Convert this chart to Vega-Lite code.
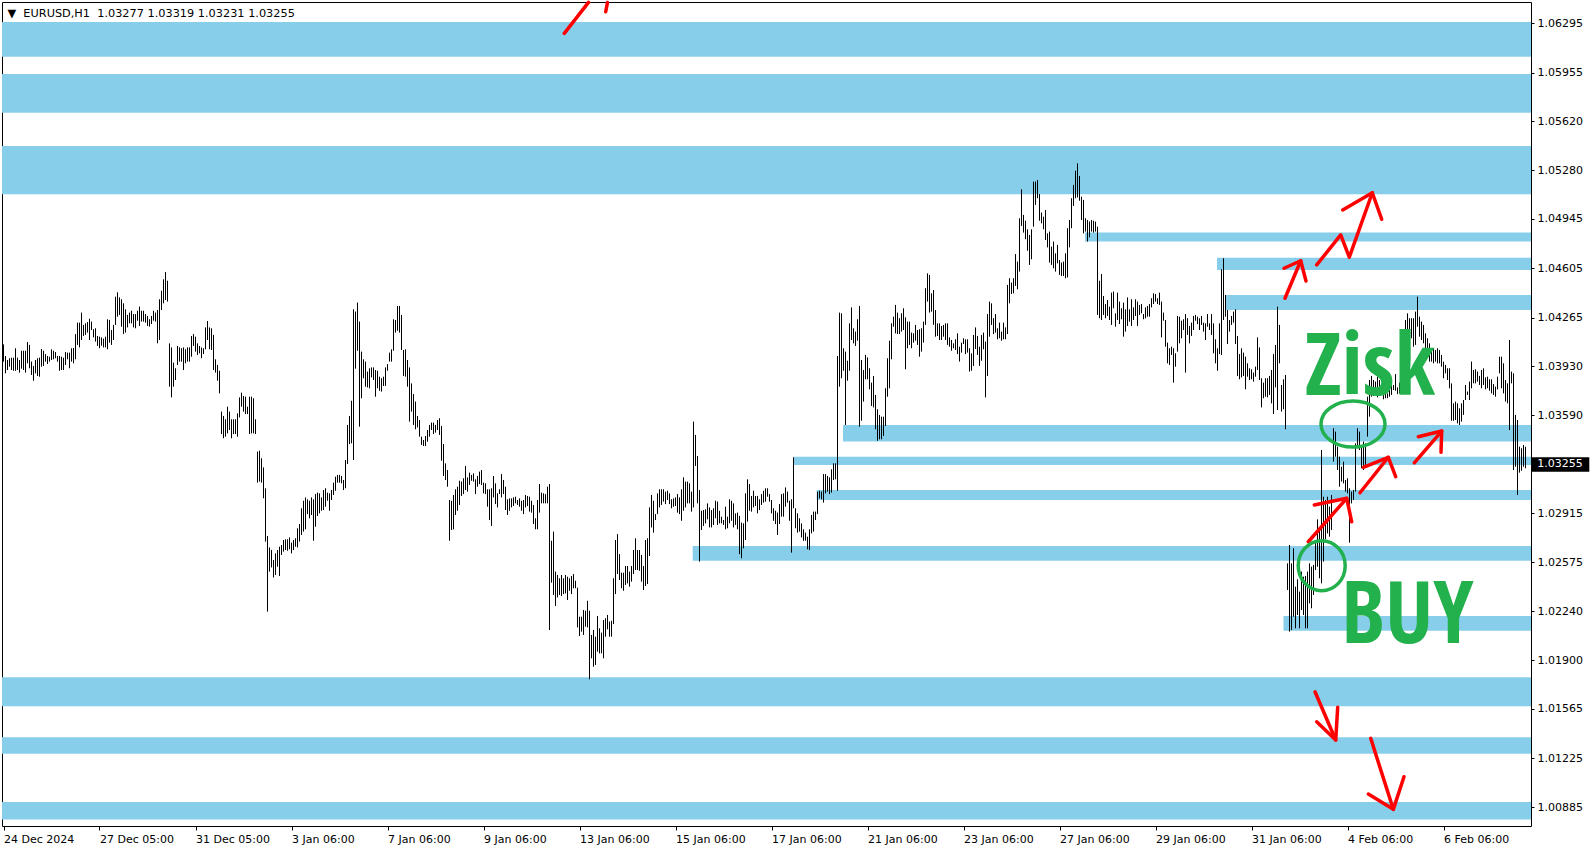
{
"$schema": "https://vega.github.io/schema/vega-lite/v6.json",
"width": 1529, "height": 824,
"autosize": {"type": "none"},
"padding": {"left": 2, "top": 2, "right": 63, "bottom": 24},
"background": "white",
"config": {"view": {"stroke": "black", "strokeWidth": 1}, "axis": {"grid": false}},
"datasets": {
"zones": [
{"x0":-0.75,"x1":763.75,"p1":1.06304,"p2":1.06065},
{"x0":-0.75,"x1":763.75,"p1":1.05945,"p2":1.05678},
{"x0":-0.75,"x1":763.75,"p1":1.05448,"p2":1.05115},
{"x0":540.75,"x1":763.75,"p1":1.04851,"p2":1.04789},
{"x0":606.75,"x1":763.75,"p1":1.04678,"p2":1.04593},
{"x0":611,"x1":763.75,"p1":1.04421,"p2":1.04317},
{"x0":419.75,"x1":763.75,"p1":1.03524,"p2":1.03409},
{"x0":394.9,"x1":763.75,"p1":1.03305,"p2":1.03248},
{"x0":406.6,"x1":763.75,"p1":1.03075,"p2":1.03006},
{"x0":344.6,"x1":763.75,"p1":1.02689,"p2":1.02587},
{"x0":640,"x1":763.75,"p1":1.02206,"p2":1.02104},
{"x0":-0.75,"x1":763.75,"p1":1.01784,"p2":1.01584},
{"x0":-0.75,"x1":763.75,"p1":1.01370,"p2":1.01255},
{"x0":-0.75,"x1":763.75,"p1":1.00922,"p2":1.00802}
],
"bars": [
{"i":0,"hi":1.04080,"lo":1.03961},{"i":1,"hi":1.04000,"lo":1.03880},{"i":2,"hi":1.03972,"lo":1.03903},{"i":3,"hi":1.03984,"lo":1.03926},{"i":4,"hi":1.03988,"lo":1.03903},{"i":5,"hi":1.03988,"lo":1.03898},{"i":6,"hi":1.04053,"lo":1.03898},{"i":7,"hi":1.03988,"lo":1.03903},{"i":8,"hi":1.03972,"lo":1.03885},{"i":9,"hi":1.04036,"lo":1.03912},
{"i":10,"hi":1.04036,"lo":1.03903},{"i":11,"hi":1.04036,"lo":1.03885},{"i":12,"hi":1.04096,"lo":1.03949},{"i":13,"hi":1.04076,"lo":1.03915},{"i":14,"hi":1.03961,"lo":1.03869},{"i":15,"hi":1.03931,"lo":1.03829},{"i":16,"hi":1.03972,"lo":1.03880},{"i":17,"hi":1.03984,"lo":1.03862},{"i":18,"hi":1.03988,"lo":1.03857},{"i":19,"hi":1.04048,"lo":1.03926},
{"i":20,"hi":1.04036,"lo":1.03931},{"i":21,"hi":1.04013,"lo":1.03961},{"i":22,"hi":1.04000,"lo":1.03944},{"i":23,"hi":1.03995,"lo":1.03961},{"i":24,"hi":1.04046,"lo":1.03972},{"i":25,"hi":1.04036,"lo":1.03977},{"i":26,"hi":1.04027,"lo":1.03984},{"i":27,"hi":1.04000,"lo":1.03961},{"i":28,"hi":1.04000,"lo":1.03898},{"i":29,"hi":1.03995,"lo":1.03903},
{"i":30,"hi":1.03988,"lo":1.03903},{"i":31,"hi":1.04027,"lo":1.03938},{"i":32,"hi":1.04023,"lo":1.03977},{"i":33,"hi":1.04023,"lo":1.03915},{"i":34,"hi":1.04053,"lo":1.03961},{"i":35,"hi":1.04055,"lo":1.03949},{"i":36,"hi":1.04151,"lo":1.03977},{"i":37,"hi":1.04230,"lo":1.04076},{"i":38,"hi":1.04230,"lo":1.04059},{"i":39,"hi":1.04299,"lo":1.04110},
{"i":40,"hi":1.04214,"lo":1.04138},{"i":41,"hi":1.04225,"lo":1.04145},{"i":42,"hi":1.04234,"lo":1.04161},{"i":43,"hi":1.04257,"lo":1.04110},{"i":44,"hi":1.04237,"lo":1.04179},{"i":45,"hi":1.04184,"lo":1.04128},{"i":46,"hi":1.04191,"lo":1.04099},{"i":47,"hi":1.04138,"lo":1.04069},{"i":48,"hi":1.04133,"lo":1.04053},{"i":49,"hi":1.04128,"lo":1.04071},
{"i":50,"hi":1.04119,"lo":1.04059},{"i":51,"hi":1.04133,"lo":1.04059},{"i":52,"hi":1.04253,"lo":1.04046},{"i":53,"hi":1.04248,"lo":1.04092},{"i":54,"hi":1.04179,"lo":1.04076},{"i":55,"hi":1.04214,"lo":1.04110},{"i":56,"hi":1.04409,"lo":1.04214},{"i":57,"hi":1.04439,"lo":1.04271},{"i":58,"hi":1.04404,"lo":1.04283},{"i":59,"hi":1.04391,"lo":1.04202},
{"i":60,"hi":1.04363,"lo":1.04151},{"i":61,"hi":1.04322,"lo":1.04161},{"i":62,"hi":1.04283,"lo":1.04197},{"i":63,"hi":1.04299,"lo":1.04225},{"i":64,"hi":1.04312,"lo":1.04225},{"i":65,"hi":1.04289,"lo":1.04197},{"i":66,"hi":1.04289,"lo":1.04191},{"i":67,"hi":1.04312,"lo":1.04243},{"i":68,"hi":1.04340,"lo":1.04207},{"i":69,"hi":1.04312,"lo":1.04237},
{"i":70,"hi":1.04312,"lo":1.04237},{"i":71,"hi":1.04289,"lo":1.04230},{"i":72,"hi":1.04276,"lo":1.04207},{"i":73,"hi":1.04253,"lo":1.04202},{"i":74,"hi":1.04276,"lo":1.04220},{"i":75,"hi":1.04312,"lo":1.04243},{"i":76,"hi":1.04299,"lo":1.04237},{"i":77,"hi":1.04317,"lo":1.04087},{"i":78,"hi":1.04391,"lo":1.04110},{"i":79,"hi":1.04450,"lo":1.04317},
{"i":80,"hi":1.04529,"lo":1.04363},{"i":81,"hi":1.04579,"lo":1.04386},{"i":82,"hi":1.04519,"lo":1.04375},{"i":83,"hi":1.04087,"lo":1.03788},{"i":84,"hi":1.04059,"lo":1.03714},{"i":85,"hi":1.03954,"lo":1.03788},{"i":86,"hi":1.03915,"lo":1.03834},{"i":87,"hi":1.04069,"lo":1.03938},{"i":88,"hi":1.04059,"lo":1.03961},{"i":89,"hi":1.04053,"lo":1.03961},
{"i":90,"hi":1.04059,"lo":1.03903},{"i":91,"hi":1.04046,"lo":1.03949},{"i":92,"hi":1.04059,"lo":1.03961},{"i":93,"hi":1.04059,"lo":1.03961},{"i":94,"hi":1.04138,"lo":1.03995},{"i":95,"hi":1.04151,"lo":1.04069},{"i":96,"hi":1.04133,"lo":1.04030},{"i":97,"hi":1.04087,"lo":1.04007},{"i":98,"hi":1.04069,"lo":1.04018},{"i":99,"hi":1.04059,"lo":1.03984},
{"i":100,"hi":1.04053,"lo":1.04013},{"i":101,"hi":1.04197,"lo":1.04046},{"i":102,"hi":1.04241,"lo":1.04110},{"i":103,"hi":1.04197,"lo":1.04046},{"i":104,"hi":1.04191,"lo":1.04041},{"i":105,"hi":1.04145,"lo":1.03903},{"i":106,"hi":1.03977,"lo":1.03885},{"i":107,"hi":1.03938,"lo":1.03829},{"i":108,"hi":1.03898,"lo":1.03742},{"i":109,"hi":1.03616,"lo":1.03461},
{"i":110,"hi":1.03586,"lo":1.03432},{"i":111,"hi":1.03563,"lo":1.03443},{"i":112,"hi":1.03650,"lo":1.03466},{"i":113,"hi":1.03616,"lo":1.03489},{"i":114,"hi":1.03563,"lo":1.03432},{"i":115,"hi":1.03563,"lo":1.03461},{"i":116,"hi":1.03563,"lo":1.03461},{"i":117,"hi":1.03604,"lo":1.03443},{"i":118,"hi":1.03714,"lo":1.03576},{"i":119,"hi":1.03747,"lo":1.03650},
{"i":120,"hi":1.03724,"lo":1.03616},{"i":121,"hi":1.03719,"lo":1.03599},{"i":122,"hi":1.03650,"lo":1.03599},{"i":123,"hi":1.03719,"lo":1.03461},{"i":124,"hi":1.03719,"lo":1.03466},{"i":125,"hi":1.03708,"lo":1.03466},{"i":126,"hi":1.03563,"lo":1.03461},{"i":127,"hi":1.03340,"lo":1.03126},{"i":128,"hi":1.03346,"lo":1.03133},{"i":129,"hi":1.03294,"lo":1.03126},
{"i":130,"hi":1.03231,"lo":1.03018},{"i":131,"hi":1.03087,"lo":1.02719},{"i":132,"hi":1.02758,"lo":1.02236},{"i":133,"hi":1.02679,"lo":1.02512},{"i":134,"hi":1.02661,"lo":1.02541},{"i":135,"hi":1.02592,"lo":1.02472},{"i":136,"hi":1.02638,"lo":1.02489},{"i":137,"hi":1.02661,"lo":1.02546},{"i":138,"hi":1.02684,"lo":1.02482},{"i":139,"hi":1.02696,"lo":1.02627},
{"i":140,"hi":1.02730,"lo":1.02650},{"i":141,"hi":1.02735,"lo":1.02661},{"i":142,"hi":1.02735,"lo":1.02656},{"i":143,"hi":1.02748,"lo":1.02666},{"i":144,"hi":1.02712,"lo":1.02638},{"i":145,"hi":1.02730,"lo":1.02661},{"i":146,"hi":1.02742,"lo":1.02684},{"i":147,"hi":1.02811,"lo":1.02679},{"i":148,"hi":1.02840,"lo":1.02719},{"i":149,"hi":1.02949,"lo":1.02765},
{"i":150,"hi":1.03001,"lo":1.02788},{"i":151,"hi":1.03024,"lo":1.02804},{"i":152,"hi":1.03011,"lo":1.02909},{"i":153,"hi":1.03001,"lo":1.02880},{"i":154,"hi":1.03024,"lo":1.02903},{"i":155,"hi":1.03011,"lo":1.02725},{"i":156,"hi":1.03047,"lo":1.02822},{"i":157,"hi":1.03057,"lo":1.02896},{"i":158,"hi":1.03052,"lo":1.02914},{"i":159,"hi":1.03024,"lo":1.02932},
{"i":160,"hi":1.03075,"lo":1.02937},{"i":161,"hi":1.03087,"lo":1.02960},{"i":162,"hi":1.03057,"lo":1.03001},{"i":163,"hi":1.03052,"lo":1.02932},{"i":164,"hi":1.03075,"lo":1.03006},{"i":165,"hi":1.03126,"lo":1.03041},{"i":166,"hi":1.03167,"lo":1.03070},{"i":167,"hi":1.03179,"lo":1.03126},{"i":168,"hi":1.03179,"lo":1.03126},{"i":169,"hi":1.03172,"lo":1.03121},
{"i":170,"hi":1.03144,"lo":1.03075},{"i":171,"hi":1.03282,"lo":1.03087},{"i":172,"hi":1.03524,"lo":1.03254},{"i":173,"hi":1.03586,"lo":1.03392},{"i":174,"hi":1.03691,"lo":1.03397},{"i":175,"hi":1.04322,"lo":1.03282},{"i":176,"hi":1.04306,"lo":1.03912},{"i":177,"hi":1.04368,"lo":1.04036},{"i":178,"hi":1.04237,"lo":1.03512},{"i":179,"hi":1.04030,"lo":1.03708},
{"i":180,"hi":1.03977,"lo":1.03846},{"i":181,"hi":1.03961,"lo":1.03788},{"i":182,"hi":1.03892,"lo":1.03783},{"i":183,"hi":1.03915,"lo":1.03777},{"i":184,"hi":1.03921,"lo":1.03852},{"i":185,"hi":1.03921,"lo":1.03834},{"i":186,"hi":1.03903,"lo":1.03719},{"i":187,"hi":1.03898,"lo":1.03777},{"i":188,"hi":1.03857,"lo":1.03760},{"i":189,"hi":1.03846,"lo":1.03754},
{"i":190,"hi":1.03857,"lo":1.03793},{"i":191,"hi":1.03921,"lo":1.03793},{"i":192,"hi":1.03944,"lo":1.03898},{"i":193,"hi":1.04023,"lo":1.03961},{"i":194,"hi":1.04046,"lo":1.03961},{"i":195,"hi":1.04253,"lo":1.04036},{"i":196,"hi":1.04248,"lo":1.04161},{"i":197,"hi":1.04345,"lo":1.04174},{"i":198,"hi":1.04345,"lo":1.04161},{"i":199,"hi":1.04283,"lo":1.04041},
{"i":200,"hi":1.04041,"lo":1.03862},{"i":201,"hi":1.04046,"lo":1.03857},{"i":202,"hi":1.03972,"lo":1.03788},{"i":203,"hi":1.03921,"lo":1.03547},{"i":204,"hi":1.03811,"lo":1.03616},{"i":205,"hi":1.03737,"lo":1.03524},{"i":206,"hi":1.03685,"lo":1.03494},{"i":207,"hi":1.03586,"lo":1.03507},{"i":208,"hi":1.03558,"lo":1.03443},{"i":209,"hi":1.03443,"lo":1.03386},
{"i":210,"hi":1.03420,"lo":1.03379},{"i":211,"hi":1.03448,"lo":1.03379},{"i":212,"hi":1.03489,"lo":1.03409},{"i":213,"hi":1.03524,"lo":1.03443},{"i":214,"hi":1.03540,"lo":1.03489},{"i":215,"hi":1.03540,"lo":1.03461},{"i":216,"hi":1.03524,"lo":1.03471},{"i":217,"hi":1.03558,"lo":1.03489},{"i":218,"hi":1.03570,"lo":1.03455},{"i":219,"hi":1.03517,"lo":1.03277},
{"i":220,"hi":1.03392,"lo":1.03172},{"i":221,"hi":1.03259,"lo":1.03144},{"i":222,"hi":1.03213,"lo":1.03098},{"i":223,"hi":1.03006,"lo":1.02725},{"i":224,"hi":1.03001,"lo":1.02799},{"i":225,"hi":1.03041,"lo":1.02804},{"i":226,"hi":1.03080,"lo":1.02903},{"i":227,"hi":1.03098,"lo":1.02932},{"i":228,"hi":1.03139,"lo":1.02972},{"i":229,"hi":1.03133,"lo":1.03034},
{"i":230,"hi":1.03156,"lo":1.03047},{"i":231,"hi":1.03241,"lo":1.03075},{"i":232,"hi":1.03162,"lo":1.03064},{"i":233,"hi":1.03195,"lo":1.03110},{"i":234,"hi":1.03179,"lo":1.03139},{"i":235,"hi":1.03190,"lo":1.03133},{"i":236,"hi":1.03149,"lo":1.03047},{"i":237,"hi":1.03172,"lo":1.03098},{"i":238,"hi":1.03202,"lo":1.03116},{"i":239,"hi":1.03213,"lo":1.03110},
{"i":240,"hi":1.03126,"lo":1.03052},{"i":241,"hi":1.03121,"lo":1.03047},{"i":242,"hi":1.03080,"lo":1.02960},{"i":243,"hi":1.03080,"lo":1.02868},{"i":244,"hi":1.03087,"lo":1.02827},{"i":245,"hi":1.03172,"lo":1.03024},{"i":246,"hi":1.03121,"lo":1.02978},{"i":247,"hi":1.03052,"lo":1.02955},{"i":248,"hi":1.03080,"lo":1.03047},{"i":249,"hi":1.03185,"lo":1.03024},
{"i":250,"hi":1.03144,"lo":1.03047},{"i":251,"hi":1.03098,"lo":1.02937},{"i":252,"hi":1.03011,"lo":1.02903},{"i":253,"hi":1.03017,"lo":1.02932},{"i":254,"hi":1.03017,"lo":1.02955},{"i":255,"hi":1.03024,"lo":1.02965},{"i":256,"hi":1.03029,"lo":1.02983},{"i":257,"hi":1.03006,"lo":1.02972},{"i":258,"hi":1.03017,"lo":1.02960},{"i":259,"hi":1.03001,"lo":1.02932},
{"i":260,"hi":1.03006,"lo":1.02909},{"i":261,"hi":1.03041,"lo":1.02955},{"i":262,"hi":1.03034,"lo":1.02965},{"i":263,"hi":1.03029,"lo":1.02926},{"i":264,"hi":1.03001,"lo":1.02919},{"i":265,"hi":1.02972,"lo":1.02840},{"i":266,"hi":1.02880,"lo":1.02804},{"i":267,"hi":1.03006,"lo":1.02804},{"i":268,"hi":1.03116,"lo":1.02919},{"i":269,"hi":1.03057,"lo":1.02983},
{"i":270,"hi":1.03052,"lo":1.02983},{"i":271,"hi":1.03047,"lo":1.02983},{"i":272,"hi":1.03098,"lo":1.02983},{"i":273,"hi":1.03116,"lo":1.02109},{"i":274,"hi":1.02725,"lo":1.02436},{"i":275,"hi":1.02788,"lo":1.02351},{"i":276,"hi":1.02512,"lo":1.02275},{"i":277,"hi":1.02489,"lo":1.02334},{"i":278,"hi":1.02466,"lo":1.02351},{"i":279,"hi":1.02489,"lo":1.02344},
{"i":280,"hi":1.02466,"lo":1.02357},{"i":281,"hi":1.02489,"lo":1.02362},{"i":282,"hi":1.02477,"lo":1.02316},{"i":283,"hi":1.02466,"lo":1.02380},{"i":284,"hi":1.02482,"lo":1.02357},{"i":285,"hi":1.02495,"lo":1.02397},{"i":286,"hi":1.02449,"lo":1.02397},{"i":287,"hi":1.02401,"lo":1.02127},{"i":288,"hi":1.02201,"lo":1.02068},{"i":289,"hi":1.02201,"lo":1.02098},
{"i":290,"hi":1.02247,"lo":1.02075},{"i":291,"hi":1.02242,"lo":1.02132},{"i":292,"hi":1.02311,"lo":1.02127},{"i":293,"hi":1.02242,"lo":1.01769},{"i":294,"hi":1.02075,"lo":1.01914},{"i":295,"hi":1.02109,"lo":1.01856},{"i":296,"hi":1.02063,"lo":1.01868},{"i":297,"hi":1.02206,"lo":1.01960},{"i":298,"hi":1.02121,"lo":1.01948},{"i":299,"hi":1.02091,"lo":1.01948},
{"i":300,"hi":1.02178,"lo":1.01914},{"i":301,"hi":1.02190,"lo":1.02063},{"i":302,"hi":1.02213,"lo":1.02114},{"i":303,"hi":1.02167,"lo":1.02063},{"i":304,"hi":1.02173,"lo":1.02063},{"i":305,"hi":1.02466,"lo":1.02150},{"i":306,"hi":1.02730,"lo":1.02357},{"i":307,"hi":1.02771,"lo":1.02495},{"i":308,"hi":1.02633,"lo":1.02454},{"i":309,"hi":1.02505,"lo":1.02397},
{"i":310,"hi":1.02505,"lo":1.02380},{"i":311,"hi":1.02551,"lo":1.02420},{"i":312,"hi":1.02551,"lo":1.02431},{"i":313,"hi":1.02512,"lo":1.02408},{"i":314,"hi":1.02551,"lo":1.02443},{"i":315,"hi":1.02661,"lo":1.02495},{"i":316,"hi":1.02742,"lo":1.02523},{"i":317,"hi":1.02661,"lo":1.02523},{"i":318,"hi":1.02661,"lo":1.02518},{"i":319,"hi":1.02627,"lo":1.02443},
{"i":320,"hi":1.02551,"lo":1.02385},{"i":321,"hi":1.02730,"lo":1.02413},{"i":322,"hi":1.02742,"lo":1.02426},{"i":323,"hi":1.02955,"lo":1.02620},{"i":324,"hi":1.03041,"lo":1.02817},{"i":325,"hi":1.03001,"lo":1.02781},{"i":326,"hi":1.02909,"lo":1.02868},{"i":327,"hi":1.03052,"lo":1.02909},{"i":328,"hi":1.03080,"lo":1.02955},{"i":329,"hi":1.03080,"lo":1.02972},
{"i":330,"hi":1.03080,"lo":1.02995},{"i":331,"hi":1.03064,"lo":1.02978},{"i":332,"hi":1.03070,"lo":1.03006},{"i":333,"hi":1.03052,"lo":1.02978},{"i":334,"hi":1.03011,"lo":1.02949},{"i":335,"hi":1.03017,"lo":1.02960},{"i":336,"hi":1.03024,"lo":1.02965},{"i":337,"hi":1.03047,"lo":1.02919},{"i":338,"hi":1.03024,"lo":1.02909},{"i":339,"hi":1.03080,"lo":1.02863},
{"i":340,"hi":1.03162,"lo":1.02932},{"i":341,"hi":1.03133,"lo":1.02955},{"i":342,"hi":1.03133,"lo":1.02983},{"i":343,"hi":1.03121,"lo":1.02983},{"i":344,"hi":1.03064,"lo":1.02926},{"i":345,"hi":1.03547,"lo":1.02955},{"i":346,"hi":1.03455,"lo":1.03241},{"i":347,"hi":1.03310,"lo":1.02983},{"i":348,"hi":1.03075,"lo":1.02581},{"i":349,"hi":1.02932,"lo":1.02799},
{"i":350,"hi":1.02937,"lo":1.02827},{"i":351,"hi":1.02942,"lo":1.02845},{"i":352,"hi":1.02983,"lo":1.02873},{"i":353,"hi":1.02955,"lo":1.02817},{"i":354,"hi":1.02937,"lo":1.02817},{"i":355,"hi":1.02949,"lo":1.02834},{"i":356,"hi":1.03001,"lo":1.02880},{"i":357,"hi":1.02995,"lo":1.02834},{"i":358,"hi":1.02932,"lo":1.02845},{"i":359,"hi":1.02891,"lo":1.02845},
{"i":360,"hi":1.02868,"lo":1.02834},{"i":361,"hi":1.02960,"lo":1.02804},{"i":362,"hi":1.02891,"lo":1.02811},{"i":363,"hi":1.03011,"lo":1.02845},{"i":364,"hi":1.03001,"lo":1.02863},{"i":365,"hi":1.02983,"lo":1.02817},{"i":366,"hi":1.02914,"lo":1.02834},{"i":367,"hi":1.02919,"lo":1.02804},{"i":368,"hi":1.02896,"lo":1.02633},{"i":369,"hi":1.02850,"lo":1.02604},
{"i":370,"hi":1.02845,"lo":1.02673},{"i":371,"hi":1.03052,"lo":1.02730},{"i":372,"hi":1.03149,"lo":1.02857},{"i":373,"hi":1.03116,"lo":1.02932},{"i":374,"hi":1.03034,"lo":1.02926},{"i":375,"hi":1.03070,"lo":1.02955},{"i":376,"hi":1.03034,"lo":1.02965},{"i":377,"hi":1.03034,"lo":1.02914},{"i":378,"hi":1.03011,"lo":1.02937},{"i":379,"hi":1.03047,"lo":1.02972},
{"i":380,"hi":1.03070,"lo":1.02988},{"i":381,"hi":1.03087,"lo":1.02995},{"i":382,"hi":1.03087,"lo":1.03029},{"i":383,"hi":1.03047,"lo":1.02995},{"i":384,"hi":1.03006,"lo":1.02914},{"i":385,"hi":1.02949,"lo":1.02863},{"i":386,"hi":1.02932,"lo":1.02840},{"i":387,"hi":1.02919,"lo":1.02765},{"i":388,"hi":1.02978,"lo":1.02840},{"i":389,"hi":1.03047,"lo":1.02891},
{"i":390,"hi":1.03052,"lo":1.02891},{"i":391,"hi":1.03093,"lo":1.02960},{"i":392,"hi":1.03064,"lo":1.02988},{"i":393,"hi":1.03001,"lo":1.02863},{"i":394,"hi":1.03011,"lo":1.02643},{"i":395,"hi":1.03300,"lo":1.02949},{"i":396,"hi":1.02949,"lo":1.02811},{"i":397,"hi":1.02914,"lo":1.02781},{"i":398,"hi":1.02880,"lo":1.02788},{"i":399,"hi":1.02845,"lo":1.02748},
{"i":400,"hi":1.02804,"lo":1.02725},{"i":401,"hi":1.02781,"lo":1.02725},{"i":402,"hi":1.02753,"lo":1.02666},{"i":403,"hi":1.02804,"lo":1.02661},{"i":404,"hi":1.02903,"lo":1.02776},{"i":405,"hi":1.02926,"lo":1.02788},{"i":406,"hi":1.02926,"lo":1.02868},{"i":407,"hi":1.03064,"lo":1.02909},{"i":408,"hi":1.03070,"lo":1.03018},{"i":409,"hi":1.03064,"lo":1.03011},
{"i":410,"hi":1.03185,"lo":1.02988},{"i":411,"hi":1.03185,"lo":1.03052},{"i":412,"hi":1.03172,"lo":1.03064},{"i":413,"hi":1.03162,"lo":1.03047},{"i":414,"hi":1.03218,"lo":1.03057},{"i":415,"hi":1.03259,"lo":1.03144},{"i":416,"hi":1.03259,"lo":1.03149},{"i":417,"hi":1.04000,"lo":1.03070},{"i":418,"hi":1.04299,"lo":1.03788},{"i":419,"hi":1.04294,"lo":1.03846},
{"i":420,"hi":1.04053,"lo":1.03898},{"i":421,"hi":1.04030,"lo":1.03524},{"i":422,"hi":1.03967,"lo":1.03829},{"i":423,"hi":1.04225,"lo":1.03898},{"i":424,"hi":1.04335,"lo":1.04110},{"i":425,"hi":1.04191,"lo":1.04087},{"i":426,"hi":1.04168,"lo":1.04069},{"i":427,"hi":1.04253,"lo":1.04105},{"i":428,"hi":1.04345,"lo":1.03512},{"i":429,"hi":1.03972,"lo":1.03553},
{"i":430,"hi":1.03903,"lo":1.03685},{"i":431,"hi":1.04007,"lo":1.03839},{"i":432,"hi":1.03990,"lo":1.03839},{"i":433,"hi":1.03915,"lo":1.03770},{"i":434,"hi":1.03816,"lo":1.03655},{"i":435,"hi":1.03862,"lo":1.03645},{"i":436,"hi":1.03731,"lo":1.03494},{"i":437,"hi":1.03632,"lo":1.03415},{"i":438,"hi":1.03593,"lo":1.03425},{"i":439,"hi":1.03581,"lo":1.03425},
{"i":440,"hi":1.03581,"lo":1.03448},{"i":441,"hi":1.03777,"lo":1.03517},{"i":442,"hi":1.03984,"lo":1.03719},{"i":443,"hi":1.04105,"lo":1.03777},{"i":444,"hi":1.04225,"lo":1.03977},{"i":445,"hi":1.04271,"lo":1.04202},{"i":446,"hi":1.04352,"lo":1.04156},{"i":447,"hi":1.04299,"lo":1.04151},{"i":448,"hi":1.04260,"lo":1.04151},{"i":449,"hi":1.04294,"lo":1.04168},
{"i":450,"hi":1.04329,"lo":1.04179},{"i":451,"hi":1.04266,"lo":1.03908},{"i":452,"hi":1.04237,"lo":1.04053},{"i":453,"hi":1.04237,"lo":1.04076},{"i":454,"hi":1.04161,"lo":1.04053},{"i":455,"hi":1.04156,"lo":1.04092},{"i":456,"hi":1.04214,"lo":1.04105},{"i":457,"hi":1.04179,"lo":1.04076},{"i":458,"hi":1.04184,"lo":1.03995},{"i":459,"hi":1.04191,"lo":1.04030},
{"i":460,"hi":1.04237,"lo":1.04092},{"i":461,"hi":1.04467,"lo":1.04214},{"i":462,"hi":1.04570,"lo":1.04375},{"i":463,"hi":1.04559,"lo":1.04299},{"i":464,"hi":1.04432,"lo":1.04306},{"i":465,"hi":1.04455,"lo":1.04214},{"i":466,"hi":1.04317,"lo":1.04133},{"i":467,"hi":1.04225,"lo":1.04138},{"i":468,"hi":1.04225,"lo":1.04110},{"i":469,"hi":1.04207,"lo":1.04110},
{"i":470,"hi":1.04214,"lo":1.04133},{"i":471,"hi":1.04225,"lo":1.04110},{"i":472,"hi":1.04225,"lo":1.04076},{"i":473,"hi":1.04128,"lo":1.04064},{"i":474,"hi":1.04110,"lo":1.04036},{"i":475,"hi":1.04087,"lo":1.04053},{"i":476,"hi":1.04115,"lo":1.04041},{"i":477,"hi":1.04156,"lo":1.04013},{"i":478,"hi":1.04064,"lo":1.03961},{"i":479,"hi":1.04092,"lo":1.04023},
{"i":480,"hi":1.04122,"lo":1.04082},{"i":481,"hi":1.04115,"lo":1.04013},{"i":482,"hi":1.04115,"lo":1.04023},{"i":483,"hi":1.04053,"lo":1.03892},{"i":484,"hi":1.04018,"lo":1.03898},{"i":485,"hi":1.04145,"lo":1.03931},{"i":486,"hi":1.04197,"lo":1.04048},{"i":487,"hi":1.04138,"lo":1.04007},{"i":488,"hi":1.04064,"lo":1.03931},{"i":489,"hi":1.04145,"lo":1.03967},
{"i":490,"hi":1.04161,"lo":1.04046},{"i":491,"hi":1.04099,"lo":1.03714},{"i":492,"hi":1.04289,"lo":1.03862},{"i":493,"hi":1.04375,"lo":1.04133},{"i":494,"hi":1.04363,"lo":1.04214},{"i":495,"hi":1.04260,"lo":1.04151},{"i":496,"hi":1.04289,"lo":1.04161},{"i":497,"hi":1.04191,"lo":1.04115},{"i":498,"hi":1.04230,"lo":1.04122},{"i":499,"hi":1.04168,"lo":1.04105},
{"i":500,"hi":1.04230,"lo":1.04115},{"i":501,"hi":1.04197,"lo":1.04115},{"i":502,"hi":1.04490,"lo":1.04151},{"i":503,"hi":1.04536,"lo":1.04363},{"i":504,"hi":1.04506,"lo":1.04427},{"i":505,"hi":1.04536,"lo":1.04432},{"i":506,"hi":1.04703,"lo":1.04483},{"i":507,"hi":1.04651,"lo":1.04460},{"i":508,"hi":1.04950,"lo":1.04582},{"i":509,"hi":1.05150,"lo":1.04897},
{"i":510,"hi":1.04973,"lo":1.04851},{"i":511,"hi":1.04933,"lo":1.04805},{"i":512,"hi":1.04874,"lo":1.04726},{"i":513,"hi":1.04835,"lo":1.04628},{"i":514,"hi":1.04874,"lo":1.04667},{"i":515,"hi":1.05203,"lo":1.04892},{"i":516,"hi":1.05203,"lo":1.05042},{"i":517,"hi":1.05214,"lo":1.05088},{"i":518,"hi":1.05117,"lo":1.04933},{"i":519,"hi":1.04989,"lo":1.04915},
{"i":520,"hi":1.04961,"lo":1.04874},{"i":521,"hi":1.05007,"lo":1.04800},{"i":522,"hi":1.04846,"lo":1.04749},{"i":523,"hi":1.04858,"lo":1.04644},{"i":524,"hi":1.04754,"lo":1.04628},{"i":525,"hi":1.04789,"lo":1.04605},{"i":526,"hi":1.04708,"lo":1.04582},{"i":527,"hi":1.04766,"lo":1.04639},{"i":528,"hi":1.04662,"lo":1.04559},{"i":529,"hi":1.04644,"lo":1.04552},
{"i":530,"hi":1.04651,"lo":1.04552},{"i":531,"hi":1.04708,"lo":1.04536},{"i":532,"hi":1.04881,"lo":1.04542},{"i":533,"hi":1.04938,"lo":1.04749},{"i":534,"hi":1.05088,"lo":1.04881},{"i":535,"hi":1.05180,"lo":1.05035},{"i":536,"hi":1.05278,"lo":1.05088},{"i":537,"hi":1.05329,"lo":1.05094},{"i":538,"hi":1.05242,"lo":1.05071},{"i":539,"hi":1.05099,"lo":1.04938},
{"i":540,"hi":1.05076,"lo":1.04846},{"i":541,"hi":1.04950,"lo":1.04858},{"i":542,"hi":1.04938,"lo":1.04789},{"i":543,"hi":1.04927,"lo":1.04818},{"i":544,"hi":1.04938,"lo":1.04858},{"i":545,"hi":1.04933,"lo":1.04851},{"i":546,"hi":1.04927,"lo":1.04858},{"i":547,"hi":1.04892,"lo":1.04283},{"i":548,"hi":1.04519,"lo":1.04260},{"i":549,"hi":1.04565,"lo":1.04248},
{"i":550,"hi":1.04414,"lo":1.04283},{"i":551,"hi":1.04358,"lo":1.04260},{"i":552,"hi":1.04386,"lo":1.04276},{"i":553,"hi":1.04340,"lo":1.04248},{"i":554,"hi":1.04437,"lo":1.04214},{"i":555,"hi":1.04444,"lo":1.04329},{"i":556,"hi":1.04294,"lo":1.04202},{"i":557,"hi":1.04437,"lo":1.04248},{"i":558,"hi":1.04375,"lo":1.04220},{"i":559,"hi":1.04329,"lo":1.04253},
{"i":560,"hi":1.04368,"lo":1.04133},{"i":561,"hi":1.04322,"lo":1.04168},{"i":562,"hi":1.04404,"lo":1.04207},{"i":563,"hi":1.04322,"lo":1.04237},{"i":564,"hi":1.04391,"lo":1.04207},{"i":565,"hi":1.04335,"lo":1.04248},{"i":566,"hi":1.04391,"lo":1.04276},{"i":567,"hi":1.04375,"lo":1.04207},{"i":568,"hi":1.04352,"lo":1.04283},{"i":569,"hi":1.04358,"lo":1.04294},
{"i":570,"hi":1.04289,"lo":1.04253},{"i":571,"hi":1.04335,"lo":1.04260},{"i":572,"hi":1.04345,"lo":1.04271},{"i":573,"hi":1.04358,"lo":1.04271},{"i":574,"hi":1.04398,"lo":1.04335},{"i":575,"hi":1.04432,"lo":1.04358},{"i":576,"hi":1.04427,"lo":1.04375},{"i":577,"hi":1.04398,"lo":1.04358},{"i":578,"hi":1.04437,"lo":1.04352},{"i":579,"hi":1.04375,"lo":1.04128},
{"i":580,"hi":1.04299,"lo":1.04243},{"i":581,"hi":1.04248,"lo":1.04064},{"i":582,"hi":1.04092,"lo":1.03949},{"i":583,"hi":1.04053,"lo":1.03938},{"i":584,"hi":1.04064,"lo":1.04007},{"i":585,"hi":1.04053,"lo":1.03816},{"i":586,"hi":1.04018,"lo":1.03926},{"i":587,"hi":1.04276,"lo":1.04030},{"i":588,"hi":1.04271,"lo":1.04087},{"i":589,"hi":1.04243,"lo":1.04122},
{"i":590,"hi":1.04253,"lo":1.04179},{"i":591,"hi":1.04289,"lo":1.03885},{"i":592,"hi":1.04260,"lo":1.04145},{"i":593,"hi":1.04207,"lo":1.04087},{"i":594,"hi":1.04230,"lo":1.04138},{"i":595,"hi":1.04276,"lo":1.04179},{"i":596,"hi":1.04283,"lo":1.04243},{"i":597,"hi":1.04271,"lo":1.04220},{"i":598,"hi":1.04260,"lo":1.04179},{"i":599,"hi":1.04276,"lo":1.04214},
{"i":600,"hi":1.04230,"lo":1.04168},{"i":601,"hi":1.04225,"lo":1.04110},{"i":602,"hi":1.04289,"lo":1.04202},{"i":603,"hi":1.04225,"lo":1.04179},{"i":604,"hi":1.04289,"lo":1.04145},{"i":605,"hi":1.04225,"lo":1.04018},{"i":606,"hi":1.04115,"lo":1.03949},{"i":607,"hi":1.04053,"lo":1.03898},{"i":608,"hi":1.04225,"lo":1.04013},{"i":609,"hi":1.04598,"lo":1.04007},
{"i":610,"hi":1.04674,"lo":1.04248},{"i":611,"hi":1.04421,"lo":1.04271},{"i":612,"hi":1.04317,"lo":1.04082},{"i":613,"hi":1.04248,"lo":1.04168},{"i":614,"hi":1.04276,"lo":1.04214},{"i":615,"hi":1.04306,"lo":1.04230},{"i":616,"hi":1.04322,"lo":1.04082},{"i":617,"hi":1.04138,"lo":1.03862},{"i":618,"hi":1.04013,"lo":1.03839},{"i":619,"hi":1.04053,"lo":1.03852},
{"i":620,"hi":1.04023,"lo":1.03862},{"i":621,"hi":1.03995,"lo":1.03770},{"i":622,"hi":1.03949,"lo":1.03857},{"i":623,"hi":1.03915,"lo":1.03834},{"i":624,"hi":1.03908,"lo":1.03839},{"i":625,"hi":1.03885,"lo":1.03823},{"i":626,"hi":1.03926,"lo":1.03857},{"i":627,"hi":1.04128,"lo":1.03903},{"i":628,"hi":1.04059,"lo":1.03834},{"i":629,"hi":1.03846,"lo":1.03645},
{"i":630,"hi":1.03816,"lo":1.03708},{"i":631,"hi":1.03846,"lo":1.03719},{"i":632,"hi":1.03846,"lo":1.03714},{"i":633,"hi":1.03862,"lo":1.03731},{"i":634,"hi":1.03903,"lo":1.03673},{"i":635,"hi":1.04013,"lo":1.03599},{"i":636,"hi":1.04076,"lo":1.03783},{"i":637,"hi":1.04340,"lo":1.03627},{"i":638,"hi":1.04214,"lo":1.03949},{"i":639,"hi":1.03800,"lo":1.03616},
{"i":640,"hi":1.03839,"lo":1.03632},{"i":641,"hi":1.03869,"lo":1.03494},{"i":642,"hi":1.02569,"lo":1.02385},{"i":643,"hi":1.02696,"lo":1.02098},{"i":644,"hi":1.02569,"lo":1.02109},{"i":645,"hi":1.02673,"lo":1.02201},{"i":646,"hi":1.02408,"lo":1.02121},{"i":647,"hi":1.02459,"lo":1.02213},{"i":648,"hi":1.02374,"lo":1.02121},{"i":649,"hi":1.02512,"lo":1.02247},
{"i":650,"hi":1.02477,"lo":1.02213},{"i":651,"hi":1.02482,"lo":1.02121},{"i":652,"hi":1.02512,"lo":1.02121},{"i":653,"hi":1.02569,"lo":1.02293},{"i":654,"hi":1.02546,"lo":1.02259},{"i":655,"hi":1.02558,"lo":1.02351},{"i":656,"hi":1.02719,"lo":1.02523},{"i":657,"hi":1.02873,"lo":1.02546},{"i":658,"hi":1.02799,"lo":1.02466},{"i":659,"hi":1.03351,"lo":1.02431},
{"i":660,"hi":1.03029,"lo":1.02581},{"i":661,"hi":1.03006,"lo":1.02735},{"i":662,"hi":1.03029,"lo":1.02776},{"i":663,"hi":1.02960,"lo":1.02753},{"i":664,"hi":1.03041,"lo":1.02799},{"i":665,"hi":1.03501,"lo":1.03271},{"i":666,"hi":1.03478,"lo":1.03305},{"i":667,"hi":1.03374,"lo":1.03213},{"i":668,"hi":1.03305,"lo":1.03098},{"i":669,"hi":1.03236,"lo":1.03133},
{"i":670,"hi":1.03271,"lo":1.03121},{"i":671,"hi":1.03144,"lo":1.03064},{"i":672,"hi":1.03156,"lo":1.03052},{"i":673,"hi":1.03087,"lo":1.02712},{"i":674,"hi":1.03064,"lo":1.02983},{"i":675,"hi":1.03075,"lo":1.03006},{"i":676,"hi":1.03397,"lo":1.03064},{"i":677,"hi":1.03501,"lo":1.03363},{"i":678,"hi":1.03478,"lo":1.03351},{"i":679,"hi":1.03374,"lo":1.03225},
{"i":680,"hi":1.03409,"lo":1.03213},{"i":681,"hi":1.03397,"lo":1.03236},{"i":682,"hi":1.03719,"lo":1.03443},{"i":683,"hi":1.03834,"lo":1.03581},{"i":684,"hi":1.03862,"lo":1.03719},{"i":685,"hi":1.03834,"lo":1.03724},{"i":686,"hi":1.03823,"lo":1.03754},{"i":687,"hi":1.03857,"lo":1.03714},{"i":688,"hi":1.03834,"lo":1.03754},{"i":689,"hi":1.03777,"lo":1.03731},
{"i":690,"hi":1.03811,"lo":1.03701},{"i":691,"hi":1.03777,"lo":1.03708},{"i":692,"hi":1.03742,"lo":1.03708},{"i":693,"hi":1.03765,"lo":1.03719},{"i":694,"hi":1.03834,"lo":1.03731},{"i":695,"hi":1.03800,"lo":1.03765},{"i":696,"hi":1.03875,"lo":1.03760},{"i":697,"hi":1.03783,"lo":1.03737},{"i":698,"hi":1.03816,"lo":1.03742},{"i":699,"hi":1.03880,"lo":1.03765},
{"i":700,"hi":1.04030,"lo":1.03862},{"i":701,"hi":1.04248,"lo":1.03961},{"i":702,"hi":1.04294,"lo":1.04087},{"i":703,"hi":1.04260,"lo":1.04145},{"i":704,"hi":1.04260,"lo":1.04122},{"i":705,"hi":1.04260,"lo":1.04064},{"i":706,"hi":1.04306,"lo":1.04076},{"i":707,"hi":1.04409,"lo":1.04202},{"i":708,"hi":1.04271,"lo":1.04133},{"i":709,"hi":1.04237,"lo":1.04110},
{"i":710,"hi":1.04214,"lo":1.04087},{"i":711,"hi":1.04156,"lo":1.03995},{"i":712,"hi":1.04122,"lo":1.04030},{"i":713,"hi":1.04087,"lo":1.03961},{"i":714,"hi":1.04041,"lo":1.03961},{"i":715,"hi":1.04053,"lo":1.03949},{"i":716,"hi":1.04041,"lo":1.03961},{"i":717,"hi":1.04053,"lo":1.03949},{"i":718,"hi":1.04041,"lo":1.03949},{"i":719,"hi":1.04007,"lo":1.03926},
{"i":720,"hi":1.03961,"lo":1.03846},{"i":721,"hi":1.03938,"lo":1.03880},{"i":722,"hi":1.03915,"lo":1.03834},{"i":723,"hi":1.03915,"lo":1.03777},{"i":724,"hi":1.03811,"lo":1.03553},{"i":725,"hi":1.03673,"lo":1.03553},{"i":726,"hi":1.03685,"lo":1.03558},{"i":727,"hi":1.03673,"lo":1.03535},{"i":728,"hi":1.03639,"lo":1.03524},{"i":729,"hi":1.03673,"lo":1.03547},
{"i":730,"hi":1.03696,"lo":1.03593},{"i":731,"hi":1.03800,"lo":1.03696},{"i":732,"hi":1.03754,"lo":1.03731},{"i":733,"hi":1.03823,"lo":1.03696},{"i":734,"hi":1.03961,"lo":1.03777},{"i":735,"hi":1.03903,"lo":1.03811},{"i":736,"hi":1.03908,"lo":1.03811},{"i":737,"hi":1.03892,"lo":1.03823},{"i":738,"hi":1.03862,"lo":1.03800},{"i":739,"hi":1.03903,"lo":1.03777},
{"i":740,"hi":1.03915,"lo":1.03800},{"i":741,"hi":1.03852,"lo":1.03770},{"i":742,"hi":1.03857,"lo":1.03777},{"i":743,"hi":1.03839,"lo":1.03760},{"i":744,"hi":1.03839,"lo":1.03742},{"i":745,"hi":1.03806,"lo":1.03731},{"i":746,"hi":1.03788,"lo":1.03719},{"i":747,"hi":1.03857,"lo":1.03770},{"i":748,"hi":1.03995,"lo":1.03880},{"i":749,"hi":1.03995,"lo":1.03777},
{"i":750,"hi":1.03949,"lo":1.03742},{"i":751,"hi":1.03834,"lo":1.03685},{"i":752,"hi":1.03811,"lo":1.03673},{"i":753,"hi":1.04110,"lo":1.03489},{"i":754,"hi":1.03892,"lo":1.03811},{"i":755,"hi":1.03880,"lo":1.03213},{"i":756,"hi":1.03593,"lo":1.03236},{"i":757,"hi":1.03558,"lo":1.03041},{"i":758,"hi":1.03374,"lo":1.03195},{"i":759,"hi":1.03363,"lo":1.03208},
{"i":760,"hi":1.03386,"lo":1.03236},{"i":761,"hi":1.03374,"lo":1.03225}
],
"arrows": [
{"s":"A1","o":0,"i":280.4,"p":1.06226},{"s":"A1","o":1,"i":292.5,"p":1.06439},
{"s":"A2","o":0,"i":301.1,"p":1.06375},{"s":"A2","o":1,"i":302,"p":1.06439},
{"s":"B1","o":0,"i":640.75,"p":1.04398},{"s":"B1","o":1,"i":648.6,"p":1.04657},
{"s":"B1h","o":0,"i":640.25,"p":1.04605},{"s":"B1h","o":1,"i":648.6,"p":1.04657},{"s":"B1h","o":2,"i":651.25,"p":1.04517},
{"s":"B2","o":0,"i":656.6,"p":1.04628},{"s":"B2","o":1,"i":668.6,"p":1.04835},{"s":"B2","o":2,"i":672.9,"p":1.04681},{"s":"B2","o":3,"i":684.4,"p":1.05126},
{"s":"B2h","o":0,"i":669.6,"p":1.05007},{"s":"B2h","o":1,"i":684.4,"p":1.05126},{"s":"B2h","o":2,"i":689.1,"p":1.04943},
{"s":"C1","o":0,"i":652.4,"p":1.02718},{"s":"C1","o":1,"i":671.6,"p":1.03018},
{"s":"C1h","o":0,"i":655.4,"p":1.02972},{"s":"C1h","o":1,"i":671.6,"p":1.03018},{"s":"C1h","o":2,"i":674.1,"p":1.02856},
{"s":"C2","o":0,"i":678.25,"p":1.03056},{"s":"C2","o":1,"i":692.4,"p":1.03301},
{"s":"C2h","o":0,"i":679.9,"p":1.03232},{"s":"C2h","o":1,"i":692.4,"p":1.03301},{"s":"C2h","o":2,"i":696.1,"p":1.03167},
{"s":"C3","o":0,"i":705.4,"p":1.03263},{"s":"C3","o":1,"i":719.1,"p":1.03482},
{"s":"C3h","o":0,"i":707.4,"p":1.03443},{"s":"C3h","o":1,"i":719.1,"p":1.03482},{"s":"C3h","o":2,"i":718.75,"p":1.03335},
{"s":"D1","o":0,"i":655.75,"p":1.01683},{"s":"D1","o":1,"i":666.1,"p":1.01350},
{"s":"D1h","o":0,"i":656.6,"p":1.01476},{"s":"D1h","o":1,"i":666.1,"p":1.01350},{"s":"D1h","o":2,"i":667.1,"p":1.01576},
{"s":"D2","o":0,"i":683.6,"p":1.01362},{"s":"D2","o":1,"i":694.9,"p":1.00872},
{"s":"D2h","o":0,"i":682.4,"p":1.00977},{"s":"D2h","o":1,"i":694.9,"p":1.00872},{"s":"D2h","o":2,"i":700.25,"p":1.01097}
],
"ann": [
{"k":"e1","i":674.75,"p":1.03530,"t":""},
{"k":"e2","i":659.1,"p":1.02553,"t":""},
{"k":"big","i":683.25,"p":1.03731,"t":"Zisk"},
{"k":"big","i":702,"p":1.02017,"t":"BUY"},
{"k":"px","i":766.9,"p":1.03255,"t":"1.03255"},
{"k":"hdr","i":2,"p":1.06341,"t":"▼\u00a0\u00a0EURUSD,H1\u00a0\u00a01.03277 1.03319 1.03231 1.03255"}
],
"box": [
{"x0":764.1,"x1":792.9,"p1":1.03301,"p2":1.03201}
]
},
"layer": [
{"data": {"name": "zones"},
 "mark": {"type": "rect", "color": "#87CEEB"},
 "encoding": {
  "x": {"field": "x0", "type": "quantitative", "title": null, "scale": {"domain": [-0.75, 763.75], "nice": false, "zero": false},
   "axis": {"orient": "bottom", "values": [0,48,96,144,192,240,288,336,384,432,480,528,576,624,672,720],
    "labelExpr": "['24 Dec 2024','27 Dec 05:00','31 Dec 05:00','3 Jan 06:00','7 Jan 06:00','9 Jan 06:00','13 Jan 06:00','15 Jan 06:00','17 Jan 06:00','21 Jan 06:00','23 Jan 06:00','27 Jan 06:00','29 Jan 06:00','31 Jan 06:00','4 Feb 06:00','6 Feb 06:00'][round(datum.value/48)]",
    "labelAlign": "left", "labelBaseline": "alphabetic", "labelPadding": 12, "tickSize": 4, "tickColor": "black", "domain": false, "grid": false,
    "labelFont": "DejaVu Sans", "labelFontSize": 11, "labelColor": "black", "labelOverlap": false, "labelBound": false, "labelFlush": false}},
  "x2": {"field": "x1"},
  "y": {"field": "p1", "type": "quantitative", "title": null, "scale": {"domain": [1.00757, 1.06442], "nice": false, "zero": false},
   "axis": {"orient": "right", "values": [1.06295,1.05955,1.0562,1.0528,1.04945,1.04605,1.04265,1.0393,1.0359,1.02915,1.02575,1.0224,1.019,1.01565,1.01225,1.00885],
    "labelExpr": "format(datum.value, '.5f')", "labelAlign": "left", "labelBaseline": "middle", "labelPadding": 3, "tickSize": 3, "tickColor": "black", "domain": false, "grid": false,
    "labelFont": "DejaVu Sans", "labelFontSize": 11, "labelColor": "black", "labelOverlap": false, "labelBound": false, "labelFlush": false}},
  "y2": {"field": "p2"}
 }},
{"data": {"name": "bars"},
 "mark": {"type": "rule", "color": "black", "strokeWidth": 1},
 "encoding": {
  "x": {"field": "i", "type": "quantitative", "title": null, "scale": {"domain": [-0.75, 763.75], "nice": false, "zero": false}},
  "y": {"field": "hi", "type": "quantitative", "title": null, "scale": {"domain": [1.00757, 1.06442], "nice": false, "zero": false}},
  "y2": {"field": "lo"}
 }},
{"data": {"name": "arrows"},
 "mark": {"type": "line", "color": "#FF0000", "strokeWidth": 3.5, "strokeCap": "round", "strokeJoin": "round"},
 "encoding": {
  "x": {"field": "i", "type": "quantitative", "title": null, "scale": {"domain": [-0.75, 763.75], "nice": false, "zero": false}},
  "y": {"field": "p", "type": "quantitative", "title": null, "scale": {"domain": [1.00757, 1.06442], "nice": false, "zero": false}},
  "detail": {"field": "s", "type": "nominal"},
  "order": {"field": "o", "type": "quantitative"}
 }},
{"data": {"name": "ann"},
 "transform": [{"filter": "datum.k === 'e1'"}],
 "mark": {"type": "point", "shape": "M -1 0 A 1 0.72 0 1 0 1 0 A 1 0.72 0 1 0 -1 0 Z", "size": 4096, "filled": false, "stroke": "#22B14C", "strokeWidth": 3.5, "opacity": 1},
 "encoding": {
  "x": {"field": "i", "type": "quantitative", "title": null, "scale": {"domain": [-0.75, 763.75], "nice": false, "zero": false}},
  "y": {"field": "p", "type": "quantitative", "title": null, "scale": {"domain": [1.00757, 1.06442], "nice": false, "zero": false}}
 }},
{"data": {"name": "ann"},
 "transform": [{"filter": "datum.k === 'e2'"}],
 "mark": {"type": "point", "shape": "M -0.94 0 A 0.94 1 0 1 0 0.94 0 A 0.94 1 0 1 0 -0.94 0 Z", "size": 2500, "filled": false, "stroke": "#22B14C", "strokeWidth": 3.5, "opacity": 1},
 "encoding": {
  "x": {"field": "i", "type": "quantitative", "title": null, "scale": {"domain": [-0.75, 763.75], "nice": false, "zero": false}},
  "y": {"field": "p", "type": "quantitative", "title": null, "scale": {"domain": [1.00757, 1.06442], "nice": false, "zero": false}}
 }},
{"data": {"name": "ann"},
 "transform": [{"filter": "datum.k === 'big'"}],
 "mark": {"type": "text", "font": "Noto Sans ExtraCondensed Black, Noto Sans ExtraCondensed, Noto Sans Condensed Black, Noto Sans Condensed, Open Sans Condensed, Liberation Sans Narrow, DejaVu Sans Condensed", "fontWeight": 900, "fontSize": 86, "color": "#22B14C", "align": "center", "baseline": "alphabetic"},
 "encoding": {
  "x": {"field": "i", "type": "quantitative", "title": null, "scale": {"domain": [-0.75, 763.75], "nice": false, "zero": false}},
  "y": {"field": "p", "type": "quantitative", "title": null, "scale": {"domain": [1.00757, 1.06442], "nice": false, "zero": false}},
  "text": {"field": "t"}
 }},
{"data": {"name": "box"},
 "mark": {"type": "rect", "color": "black"},
 "encoding": {
  "x": {"field": "x0", "type": "quantitative", "title": null, "scale": {"domain": [-0.75, 763.75], "nice": false, "zero": false}},
  "x2": {"field": "x1"},
  "y": {"field": "p1", "type": "quantitative", "title": null, "scale": {"domain": [1.00757, 1.06442], "nice": false, "zero": false}},
  "y2": {"field": "p2"}
 }},
{"data": {"name": "ann"},
 "transform": [{"filter": "datum.k === 'px'"}],
 "mark": {"type": "text", "font": "DejaVu Sans", "fontSize": 11, "color": "white", "align": "left", "baseline": "middle"},
 "encoding": {
  "x": {"field": "i", "type": "quantitative", "title": null, "scale": {"domain": [-0.75, 763.75], "nice": false, "zero": false}},
  "y": {"field": "p", "type": "quantitative", "title": null, "scale": {"domain": [1.00757, 1.06442], "nice": false, "zero": false}},
  "text": {"field": "t"}
 }},
{"data": {"name": "ann"},
 "transform": [{"filter": "datum.k === 'hdr'"}],
 "mark": {"type": "text", "font": "DejaVu Sans", "fontSize": 11.3, "color": "black", "align": "left", "baseline": "alphabetic"},
 "encoding": {
  "x": {"field": "i", "type": "quantitative", "title": null, "scale": {"domain": [-0.75, 763.75], "nice": false, "zero": false}},
  "y": {"field": "p", "type": "quantitative", "title": null, "scale": {"domain": [1.00757, 1.06442], "nice": false, "zero": false}},
  "text": {"field": "t"}
 }}
]
}
